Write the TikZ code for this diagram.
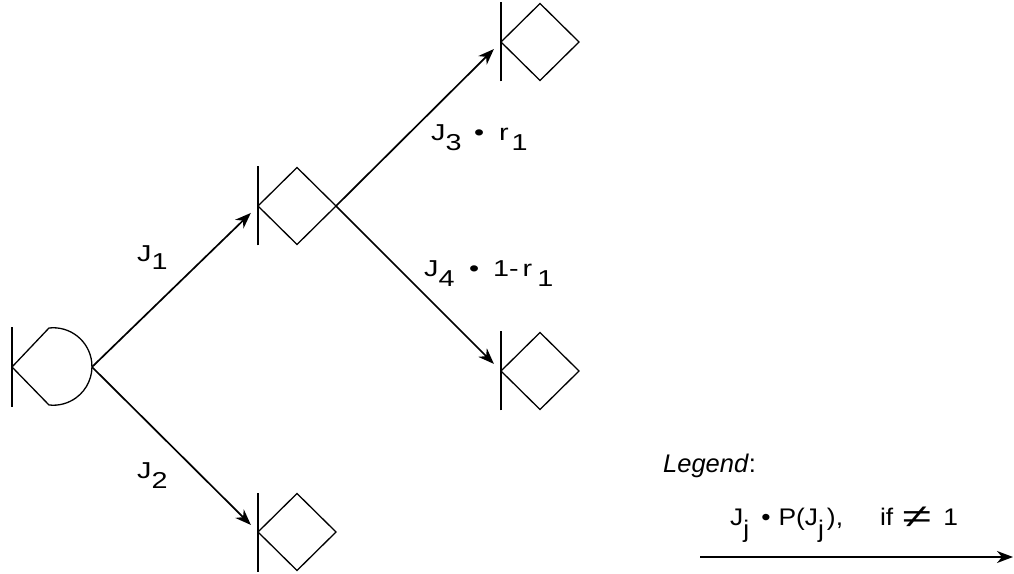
\documentclass[tikz,border=0pt]{standalone}
\usepackage{fontspec}
\setmainfont{Liberation Sans}
\newfontfamily\lblfont[FakeStretch=1.25]{Liberation Sans}
\newfontfamily\legfont[FakeStretch=1.1]{Liberation Sans}
\usetikzlibrary{shapes.geometric,arrows.meta}
\newcommand\lo[2][10pt]{\raisebox{-#1}{#2}}
\tikzset{
  dec/.style={diamond, draw, line width=1.3pt, minimum width=78pt, minimum height=77pt, inner sep=0pt, outer sep=0pt},
  bar/.style={line width=1.3pt},
  conn/.style={line width=1.7pt, -{Stealth[length=16pt,width=12pt,inset=5pt]}, shorten >=10pt},
  lbl/.style={anchor=base west, inner sep=0pt, font=\lblfont\fontsize{23}{23}\selectfont},
  leglbl/.style={anchor=base west, inner sep=0pt, font=\legfont\fontsize{24}{24}\selectfont}
}
\begin{document}
\begin{tikzpicture}[x=1pt,y=1pt]
\useasboundingbox (0,0) rectangle (1014,573);
% root chance node
\coordinate (r) at (12,206);
\coordinate (rout) at (92,206);
\draw[bar] (r) ++(0,-40) -- ++(0,80);
\draw[bar] (r) -- (49,245) arc[start angle=96.3, end angle=-96.3, radius=38.73pt] -- cycle;
% decision nodes
\node[dec] (m) at (297,367) {};
\node[dec] (b) at (297,41) {};
\node[dec] (t) at (540,531) {};
\node[dec] (l) at (540,202) {};
\foreach \n in {m,b,t,l}{\draw[bar] (\n.west) ++(0,-39.5) -- ++(0,79);}
% connectors
\draw[conn] (rout) -- (m.west);
\draw[conn] (rout) -- (b.west);
\draw[conn] (m.east) -- (t.west);
\draw[conn] (m.east) -- (l.west);
% labels
\node[lbl] (j1) at (137,311) {J\lo[8pt]{1}};
\node[lbl] (j2) at (137,95) {J\lo{2}};
\node[lbl] (j3) at (431,432) {J\lo{3}\hspace{12.5pt}\textbullet\hspace{15pt}r\hspace{3pt}\lo{1}};
\node[lbl] (j4) at (424,296) {J\lo{4}\hspace{14.5pt}\textbullet\hspace{14pt}1-\hspace{4pt}r\hspace{5pt}\lo{1}};
% legend
\node[anchor=base west, inner sep=0pt, font=\fontsize{25.5}{25.5}\selectfont] (leg) at (663,100) {\textit{Legend}:};
\node[leglbl] (legl) at (730,48) {J\lo[12pt]{j}\hspace{12pt}\textbullet\hspace{8pt}P(J\lo[12pt]{j}\hspace{3pt}),\hspace{37pt}if\hspace{9pt}\raisebox{-2pt}{\scalebox{2.0}[1.35]{≠}}\hspace{12pt}1};
\coordinate (ls) at (700,16);
\coordinate (le) at (1013,16);
\draw[conn, shorten >=0pt] (ls) -- (le);
\end{tikzpicture}
\end{document}
